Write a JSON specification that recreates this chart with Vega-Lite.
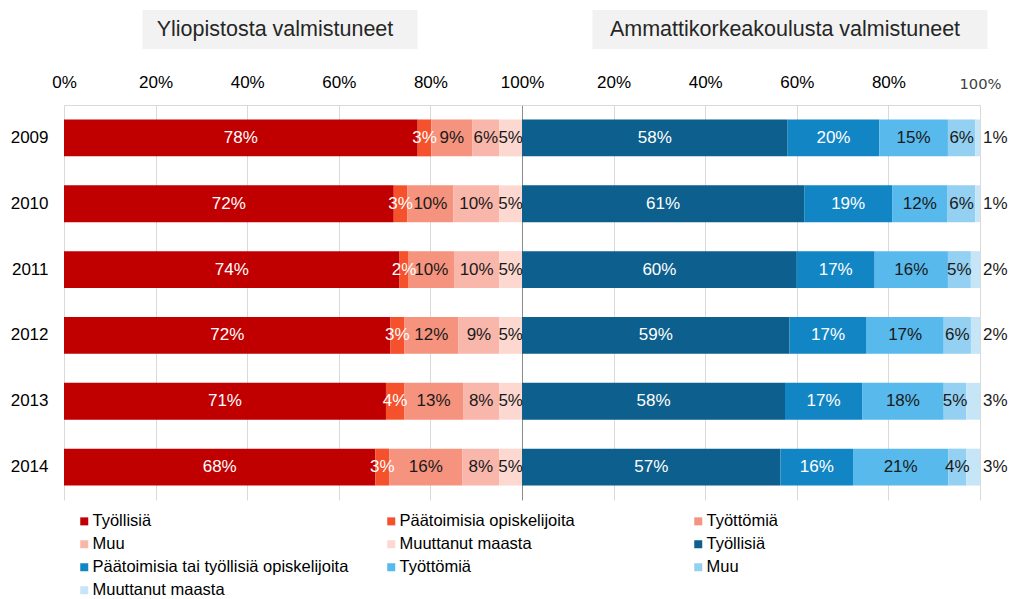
{
  "$schema": "https://vega.github.io/schema/vega-lite/v6.json",
  "background": "white",
  "padding": {"left": 10, "top": 10, "right": 0, "bottom": 0},
  "config": {"view": {"stroke": null}, "font": "Liberation Sans"},
  "spacing": 56,
  "bounds": "flush",
  "vconcat": [
    {
      "width": 916,
      "height": 39,
      "data": {"values": [
        {"panel": "Y", "title": "Yliopistosta valmistuneet"},
        {"panel": "A", "title": "Ammattikorkeakoulusta valmistuneet"}
      ]},
      "encoding": {
        "x": {"field": "panel", "type": "nominal", "sort": ["Y", "A"], "scale": {"paddingInner": 0, "paddingOuter": 0}, "axis": null}
      },
      "layer": [
        {"transform": [{"filter": "datum.panel == 'Y'"}], "mark": {"type": "bar", "width": 275, "xOffset": -13, "color": "#F2F2F2"}},
        {"transform": [{"filter": "datum.panel == 'A'"}], "mark": {"type": "bar", "width": 395, "xOffset": 39, "color": "#F2F2F2"}},
        {"transform": [{"filter": "datum.panel == 'Y'"}], "mark": {"type": "text", "fontSize": 21.5, "xOffset": -18, "color": "#262626"}, "encoding": {"text": {"field": "title"}}},
        {"transform": [{"filter": "datum.panel == 'A'"}], "mark": {"type": "text", "fontSize": 21.5, "xOffset": 34, "color": "#262626"}, "encoding": {"text": {"field": "title"}}}
      ]
    },
    {
      "width": 916,
      "height": 395,
      "data": {"values": [
        {"year": "2009", "cat": "Y1 Työllisiä", "v": 0.78},
        {"year": "2009", "cat": "Y2 Päätoimisia opiskelijoita", "v": 0.03},
        {"year": "2009", "cat": "Y3 Työttömiä", "v": 0.09},
        {"year": "2009", "cat": "Y4 Muu", "v": 0.06},
        {"year": "2009", "cat": "Y5 Muuttanut maasta", "v": 0.05},
        {"year": "2010", "cat": "Y1 Työllisiä", "v": 0.72},
        {"year": "2010", "cat": "Y2 Päätoimisia opiskelijoita", "v": 0.03},
        {"year": "2010", "cat": "Y3 Työttömiä", "v": 0.10},
        {"year": "2010", "cat": "Y4 Muu", "v": 0.10},
        {"year": "2010", "cat": "Y5 Muuttanut maasta", "v": 0.05},
        {"year": "2011", "cat": "Y1 Työllisiä", "v": 0.74},
        {"year": "2011", "cat": "Y2 Päätoimisia opiskelijoita", "v": 0.02},
        {"year": "2011", "cat": "Y3 Työttömiä", "v": 0.10},
        {"year": "2011", "cat": "Y4 Muu", "v": 0.10},
        {"year": "2011", "cat": "Y5 Muuttanut maasta", "v": 0.05},
        {"year": "2012", "cat": "Y1 Työllisiä", "v": 0.72},
        {"year": "2012", "cat": "Y2 Päätoimisia opiskelijoita", "v": 0.03},
        {"year": "2012", "cat": "Y3 Työttömiä", "v": 0.12},
        {"year": "2012", "cat": "Y4 Muu", "v": 0.09},
        {"year": "2012", "cat": "Y5 Muuttanut maasta", "v": 0.05},
        {"year": "2013", "cat": "Y1 Työllisiä", "v": 0.71},
        {"year": "2013", "cat": "Y2 Päätoimisia opiskelijoita", "v": 0.04},
        {"year": "2013", "cat": "Y3 Työttömiä", "v": 0.13},
        {"year": "2013", "cat": "Y4 Muu", "v": 0.08},
        {"year": "2013", "cat": "Y5 Muuttanut maasta", "v": 0.05},
        {"year": "2014", "cat": "Y1 Työllisiä", "v": 0.68},
        {"year": "2014", "cat": "Y2 Päätoimisia opiskelijoita", "v": 0.03},
        {"year": "2014", "cat": "Y3 Työttömiä", "v": 0.16},
        {"year": "2014", "cat": "Y4 Muu", "v": 0.08},
        {"year": "2014", "cat": "Y5 Muuttanut maasta", "v": 0.05},
        {"year": "2009", "cat": "A1 Työllisiä", "v": 0.58},
        {"year": "2009", "cat": "A2 Päätoimisia tai työllisiä opiskelijoita", "v": 0.20},
        {"year": "2009", "cat": "A3 Työttömiä", "v": 0.15},
        {"year": "2009", "cat": "A4 Muu", "v": 0.06},
        {"year": "2009", "cat": "A5 Muuttanut maasta", "v": 0.01},
        {"year": "2010", "cat": "A1 Työllisiä", "v": 0.61},
        {"year": "2010", "cat": "A2 Päätoimisia tai työllisiä opiskelijoita", "v": 0.19},
        {"year": "2010", "cat": "A3 Työttömiä", "v": 0.12},
        {"year": "2010", "cat": "A4 Muu", "v": 0.06},
        {"year": "2010", "cat": "A5 Muuttanut maasta", "v": 0.01},
        {"year": "2011", "cat": "A1 Työllisiä", "v": 0.60},
        {"year": "2011", "cat": "A2 Päätoimisia tai työllisiä opiskelijoita", "v": 0.17},
        {"year": "2011", "cat": "A3 Työttömiä", "v": 0.16},
        {"year": "2011", "cat": "A4 Muu", "v": 0.05},
        {"year": "2011", "cat": "A5 Muuttanut maasta", "v": 0.02},
        {"year": "2012", "cat": "A1 Työllisiä", "v": 0.59},
        {"year": "2012", "cat": "A2 Päätoimisia tai työllisiä opiskelijoita", "v": 0.17},
        {"year": "2012", "cat": "A3 Työttömiä", "v": 0.17},
        {"year": "2012", "cat": "A4 Muu", "v": 0.06},
        {"year": "2012", "cat": "A5 Muuttanut maasta", "v": 0.02},
        {"year": "2013", "cat": "A1 Työllisiä", "v": 0.58},
        {"year": "2013", "cat": "A2 Päätoimisia tai työllisiä opiskelijoita", "v": 0.17},
        {"year": "2013", "cat": "A3 Työttömiä", "v": 0.18},
        {"year": "2013", "cat": "A4 Muu", "v": 0.05},
        {"year": "2013", "cat": "A5 Muuttanut maasta", "v": 0.03},
        {"year": "2014", "cat": "A1 Työllisiä", "v": 0.57},
        {"year": "2014", "cat": "A2 Päätoimisia tai työllisiä opiskelijoita", "v": 0.16},
        {"year": "2014", "cat": "A3 Työttömiä", "v": 0.21},
        {"year": "2014", "cat": "A4 Muu", "v": 0.04},
        {"year": "2014", "cat": "A5 Muuttanut maasta", "v": 0.03}
      ]},
      "transform": [
        {"calculate": "slice(datum.cat, 0, 1)", "as": "grp"},
        {"stack": "v", "groupby": ["year", "grp"], "sort": [{"field": "cat", "order": "ascending"}], "offset": "normalize", "as": ["s0", "s1"]},
        {"calculate": "datum.s0 + (datum.grp == 'A' ? 1 : 0)", "as": "x0"},
        {"calculate": "datum.s1 + (datum.grp == 'A' ? 1 : 0)", "as": "x1"},
        {"calculate": "(datum.x0 + datum.x1) / 2", "as": "xm"}
      ],
      "encoding": {
        "y": {
          "field": "year", "type": "ordinal",
          "scale": {"paddingInner": 0.44, "paddingOuter": 0.22},
          "axis": {"title": null, "domain": false, "ticks": false, "labelPadding": 16, "labelFontSize": 17, "labelColor": "#000000", "labelFont": "Liberation Sans"}
        }
      },
      "layer": [
        {
          "mark": {"type": "bar"},
          "encoding": {
            "x": {
              "field": "x0", "type": "quantitative",
              "scale": {"domain": [0, 2], "nice": false, "zero": false},
              "axis": {
                "orient": "top",
                "values": [0, 0.2, 0.4, 0.6, 0.8, 1, 1.2, 1.4, 1.6, 1.8, 2],
                "labelExpr": "format(datum.value <= 1.0001 ? datum.value : datum.value - 1, '.0%')",
                "title": null,
                "ticks": false,
                "domainColor": "#D9D9D9",
                "gridColor": {"condition": {"test": "abs(datum.value - 1) < 0.001", "value": "#8C8C8C"}, "value": "#D9D9D9"},
                "labelFontSize": {"condition": {"test": "datum.value > 1.99", "value": 14.7}, "value": 17},
                "labelFont": {"condition": {"test": "datum.value > 1.99", "value": "DejaVu Sans"}, "value": "Liberation Sans"},
                "labelColor": {"condition": {"test": "datum.value > 1.99", "value": "#404040"}, "value": "#000000"},
                "labelPadding": 14,
                "labelFlush": false,
                "labelOverlap": false
              }
            },
            "x2": {"field": "x1"},
            "color": {
              "field": "cat", "type": "nominal",
              "scale": {
                "domain": ["Y1 Työllisiä", "Y2 Päätoimisia opiskelijoita", "Y3 Työttömiä", "Y4 Muu", "Y5 Muuttanut maasta", "A1 Työllisiä", "A2 Päätoimisia tai työllisiä opiskelijoita", "A3 Työttömiä", "A4 Muu", "A5 Muuttanut maasta"],
                "range": ["#C00000", "#F4512C", "#F5937E", "#F9B6AA", "#FCD8D0", "#0D5F8D", "#1286C5", "#57B9EC", "#93D0F2", "#C6E6F8"]
              },
              "legend": {
                "title": null, "orient": "none", "legendX": 12, "legendY": 503,
                "direction": "horizontal",
                "columns": 3, "gridAlign": "all", "columnPadding": 34, "rowPadding": 6,
                "symbolType": "square", "symbolSize": 64, "symbolStrokeWidth": 0,
                "labelFontSize": 16.5, "labelFont": "Liberation Sans", "labelColor": "#000000",
                "labelOffset": 0, "labelLimit": 400,
                "labelExpr": "slice(datum.label, 3)"
              }
            }
          }
        },
        {
          "transform": [{"filter": "datum.cat != 'A5 Muuttanut maasta'"}],
          "mark": {"type": "text", "fontSize": 17, "font": "Liberation Sans"},
          "encoding": {
            "x": {"field": "xm", "type": "quantitative"},
            "text": {"field": "v", "type": "quantitative", "format": ".0%"},
            "color": {"condition": {"test": "indexof(['Y1', 'Y2', 'A1', 'A2'], slice(datum.cat, 0, 2)) >= 0", "value": "#FFFFFF"}, "value": "#1A1A1A"}
          }
        },
        {
          "transform": [{"filter": "datum.cat == 'A5 Muuttanut maasta'"}],
          "mark": {"type": "text", "fontSize": 17, "font": "Liberation Sans", "align": "left", "dx": 3, "color": "#1A1A1A"},
          "encoding": {
            "x": {"field": "x1", "type": "quantitative"},
            "text": {"field": "v", "type": "quantitative", "format": ".0%"}
          }
        }
      ]
    }
  ]
}
